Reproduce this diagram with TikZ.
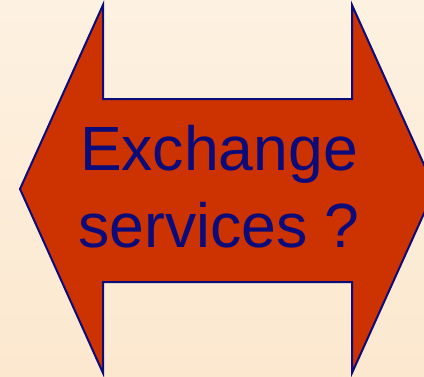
\documentclass[tikz,border=0pt]{standalone}
\usepackage{fontspec}
\setmainfont{Liberation Sans}
\usepackage{tikz}
\usetikzlibrary{positioning}
\definecolor{peachtop}{HTML}{FDF1E1}
\definecolor{peachbot}{HTML}{FCE8CF}
\definecolor{arrowred}{HTML}{CC3300}
\definecolor{navyline}{HTML}{0B0B7A}

\begin{document}
\begin{tikzpicture}[x=1pt,y=-1pt,
  bigarrow/.style={fill=arrowred,draw=navyline,line width=2pt,line join=miter},
  bigtext/.style={font=\fontsize{62.5}{77}\selectfont,text=navyline,align=center,inner sep=0pt}]
\useasboundingbox (0,0) rectangle (424,376);
\clip (0,0) rectangle (424,376);
% page background
\shade[top color=peachtop,bottom color=peachbot] (0,0) rectangle (424,376);
% double headed block arrow (right tip runs off the page)
\draw[bigarrow] (20,189) -- (103,5) -- (103,99) -- (352,99) -- (352,5) -- (435,189)
  -- (352,373) -- (352,282) -- (103,282) -- (103,373) -- cycle;
\node[bigtext,anchor=base] (label) at (219,247) {Exchange\\services ?};
\end{tikzpicture}
\end{document}
